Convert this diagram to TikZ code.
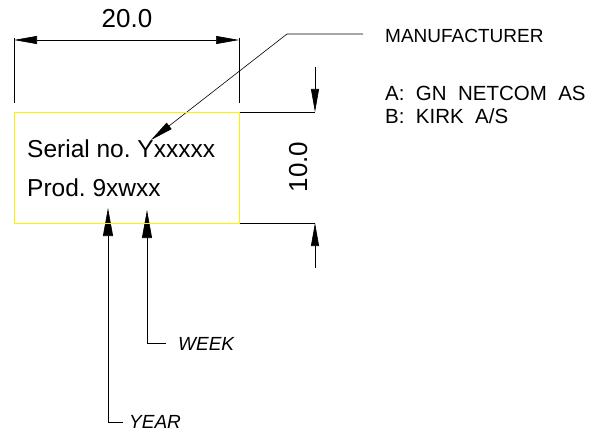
\documentclass[tikz,border=0pt]{standalone}
\usepackage{fontspec}
\setmainfont{Liberation Sans}
\usetikzlibrary{arrows.meta}

\begin{document}
\begin{tikzpicture}
[x=1pt,y=-1pt,
  dimLine/.style={line width=0.6pt},
  dimArrow/.style={dimLine,-{Triangle[length=23pt,width=8pt]}},
  noteArrow/.style={dimLine,-{Triangle[length=28pt,width=10pt]}},
  tagText/.style={anchor=base west,inner sep=0pt,font=\fontsize{24.5}{29}\selectfont},
  noteText/.style={anchor=base west,inner sep=0pt,font=\fontsize{19}{23}\selectfont},
  dimText/.style={anchor=base,inner sep=0pt,font=\fontsize{26}{31}\selectfont}]
\useasboundingbox (0,0) rectangle (596,433);
\coordinate (tagNW) at (14,112);
\coordinate (tagSE) at (239,223);
\node[tagText] (serial) at (27,157) {Serial no.\ Yxxxxx};
\node[tagText] (prod) at (27,196) {Prod.\ 9xwxx};
% width
\coordinate (extLeftTop) at (14,38);  \coordinate (extLeftBot) at (14,103);
\coordinate (extRightTop) at (239,38); \coordinate (extRightBot) at (239,103);
\draw[dimLine] (extLeftTop) -- (extLeftBot);
\draw[dimLine] (extRightTop) -- (extRightBot);
\coordinate (widthL) at (14,40); \coordinate (widthR) at (239,40);
\draw[dimLine,{Triangle[length=23pt,width=8pt]}-{Triangle[length=23pt,width=8pt]}] (widthL) -- (widthR);
\node[dimText] (width) at (127,28) {20.0};
% height
\coordinate (extTopA) at (239,112); \coordinate (extTopB) at (315,112);
\coordinate (extBotA) at (239,223); \coordinate (extBotB) at (315,223);
\draw[dimLine] (extTopA) -- (extTopB);
\draw[dimLine] (extBotA) -- (extBotB);
\coordinate (heightTop) at (315,67); \coordinate (heightBot) at (315,268);
\draw[dimArrow] (heightTop) -- (extTopB);
\draw[dimArrow] (heightBot) -- (extBotB);
\node[dimText,rotate=90] (height) at (307,167) {10.0};
% notes
\node[noteText] (maker) at (385,43) {MANUFACTURER};
\node[noteText,font=\fontsize{20.5}{24}\selectfont] (makerA) at (385,101) {A:\ \ GN\ \ NETCOM\ \ AS};
\node[noteText,font=\fontsize{20.5}{24}\selectfont] (makerB) at (385,123) {B:\ \ KIRK\ \ A/S};
\coordinate (makerEnd) at (363,34); \coordinate (makerBend) at (287,34);
\coordinate (makerTip) at (151,140);
\draw[dimArrow] (makerEnd) -- (makerBend) -- (makerTip);
\node[noteText,font=\fontsize{19}{23}\itshape] (week) at (178,350) {WEEK};
\node[noteText,font=\fontsize{19}{23}\itshape] (year) at (129,428) {YEAR};
\coordinate (weekEnd) at (166,343); \coordinate (weekBend) at (147,343);
\coordinate (weekTip) at (147,210);
\coordinate (yearEnd) at (123,422); \coordinate (yearBend) at (108,422);
\coordinate (yearTip) at (108,208);
\draw[noteArrow] (weekEnd) -- (weekBend) -- (weekTip);
\draw[noteArrow] (yearEnd) -- (yearBend) -- (yearTip);
\draw[yellow,line width=1pt] (tagNW) rectangle (tagSE);
\end{tikzpicture}
\end{document}
